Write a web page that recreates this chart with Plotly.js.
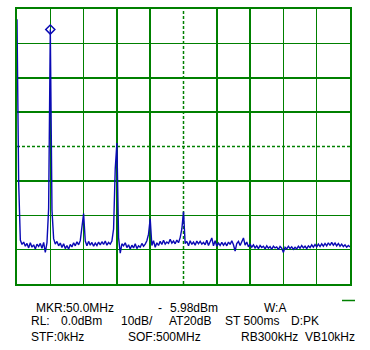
<!DOCTYPE html>
<html><head><meta charset="utf-8">
<script src="https://cdn.plot.ly/plotly-3.0.1.min.js"></script>
<style>html,body{margin:0;padding:0;background:#fff;}#chart{width:370px;height:350px;}</style>
</head><body><div id="chart"></div>
<script>
// Spectrum trace: start 0 MHz, step 2.5 MHz, span 500 MHz (dBm)
const startFreq = 0;
const stepFreq = 2.5;
const levels = [
-3,-50.5,-67.2,-68.5,-67.8,-69.0,-68.2,-69.5,-68.0,-69.3,
-68.6,-69.8,-68.4,-69.1,-68.2,-69.6,-67.9,-70.8,-68.0,-58.0,
-6.0,-58.5,-66.8,-68.4,-67.6,-68.9,-68.1,-69.4,-68.3,-69.7,
-68.8,-69.9,-68.5,-69.2,-68.0,-68.9,-67.7,-68.6,-67.4,-63.5,
-59.5,-67.5,-68.9,-67.6,-68.7,-67.9,-69.0,-68.1,-68.8,-67.8,
-68.6,-67.7,-68.5,-67.5,-68.7,-67.9,-68.4,-67.5,-64.0,-46.5,
-39.0,-66.5,-71.0,-68.3,-68.9,-68.0,-69.4,-68.6,-69.8,-68.7,
-69.5,-68.3,-69.7,-68.9,-69.3,-68.2,-69.0,-68.4,-67.4,-65.5,
-61.0,-68.8,-67.4,-69.3,-68.0,-68.8,-67.6,-68.5,-67.3,-68.4,
-67.8,-68.2,-67.0,-68.1,-67.5,-68.3,-67.2,-68.0,-66.5,-64.0,
-59.0,-68.2,-67.6,-68.9,-67.4,-68.5,-67.8,-68.7,-67.5,-68.3,
-67.6,-68.4,-67.9,-68.6,-67.3,-68.8,-67.7,-66.6,-68.9,-67.4,
-69.0,-68.1,-68.8,-67.9,-68.7,-68.0,-68.9,-67.8,-68.5,-67.4,
-68.6,-70.4,-68.2,-67.6,-68.8,-67.9,-66.6,-68.7,-67.8,-69.2,
-68.4,-69.3,-68.6,-69.5,-68.9,-69.7,-68.8,-69.4,-69.0,-69.8,
-68.9,-69.6,-69.1,-69.9,-69.0,-69.5,-69.2,-70.0,-69.1,-69.6,
-70.8,-69.3,-69.8,-69.0,-69.7,-69.2,-69.9,-69.3,-69.8,-69.0,
-69.6,-68.8,-69.5,-69.0,-69.7,-68.9,-69.4,-68.6,-69.3,-68.5,
-69.2,-68.4,-69.1,-68.3,-69.0,-68.2,-68.9,-68.0,-68.8,-67.9,
-68.7,-68.1,-68.9,-68.2,-69.0,-68.4,-69.1,-68.6,-69.3,-68.8,
-69.2
];
// Marker
const markerFreq = [50.0];
const markerLevel = [-5.98];
// Axis settings (MHz, dBm)
const freqRange = [0, 500];
const levelRange = [-80, 0];
const freqGrid = [0, 50, 100, 150, 200, 300, 350, 400, 450, 500];
const levelGrid = [-80, -70, -60, -50, -30, -20, -10, 0];
const centerFreq = [250];
const centerLevel = [-40];
// Readout text rows
const row1 = ["MKR:50.0MHz", "-", "5.98dBm", "W:A"];
const row2 = ["RL:", "0.0dBm", "10dB/", "AT20dB", "ST 500ms", "D:PK"];
const row3 = ["STF:0kHz", "SOF:500MHz", "RB300kHz", "VB10kHz"];

const GREEN = '#008000';
const W = 370, H = 350, L = 17, R = 20, T = 9, B = 66;
const pw = W - L - R, ph = H - T - B;
const px = v => (v - L) / pw;
const py = v => (H - B - v) / ph;

const row1X = [35, 157, 169, 263];
const row2X = [30, 60, 120, 168, 224, 290];
const row3X = [30, 127, 240, 304];
const rowsY = [307.5, 321.5, 336.5];
const annotations = [];
[[row1, row1X], [row2, row2X], [row3, row3X]].forEach(([txts, xs], r) => {
  txts.forEach((t, k) => annotations.push({
    text: t, xref: 'paper', yref: 'paper', x: px(xs[k]), y: py(rowsY[r]),
    xanchor: 'left', yanchor: 'middle', showarrow: false, borderpad: 0,
    font: {family: 'Liberation Sans, Arial, sans-serif', size: 12, color: '#000'}
  }));
});

const shapes = [
  {type: 'line', xref: 'x', yref: 'y', x0: centerFreq[0], x1: centerFreq[0], y0: levelRange[0], y1: levelRange[1],
   line: {color: GREEN, width: 1.5, dash: '3px,2px'}, layer: 'below'},
  {type: 'line', xref: 'x', yref: 'y', x0: freqRange[0], x1: freqRange[1], y0: centerLevel[0], y1: centerLevel[0],
   line: {color: GREEN, width: 1.5, dash: '3px,2px'}, layer: 'below'},
  {type: 'line', xref: 'paper', yref: 'paper', x0: px(342), x1: px(355), y0: py(300.5), y1: py(300.5),
   line: {color: GREEN, width: 1.5}}
];

const data = [
  {type: 'scatter', mode: 'lines', x0: startFreq, dx: stepFreq, y: levels,
   line: {color: '#0a0ab4', width: 1.4}, hoverinfo: 'skip'},
  {type: 'scatter', mode: 'markers', x: markerFreq, y: markerLevel,
   marker: {symbol: 'diamond-open', size: 7, color: '#0a0ab4', line: {width: 1.5}}, hoverinfo: 'skip'}
];

const axisCommon = {showticklabels: false, ticks: '', zeroline: false, showline: true, mirror: true,
  linecolor: GREEN, linewidth: 2, gridcolor: GREEN, gridwidth: 1.5, fixedrange: true};

const layout = {
  width: W, height: H, margin: {l: L, r: R, t: T, b: B},
  paper_bgcolor: '#fff', plot_bgcolor: '#fff', showlegend: false,
  xaxis: Object.assign({}, axisCommon, {range: freqRange, tickmode: 'array', tickvals: freqGrid}),
  yaxis: Object.assign({}, axisCommon, {range: levelRange, tickmode: 'array', tickvals: levelGrid}),
  shapes: shapes, annotations: annotations
};
Plotly.newPlot('chart', data, layout, {displayModeBar: false, staticPlot: true});
</script></body></html>
